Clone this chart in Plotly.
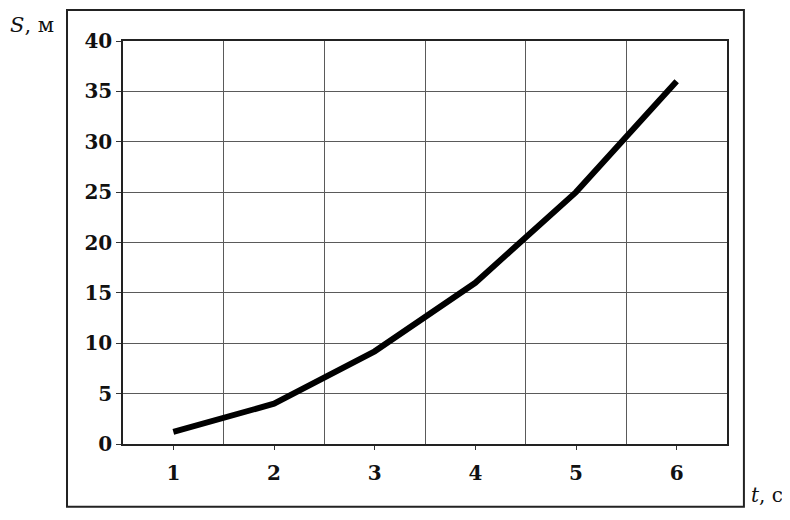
import plotly.graph_objects as go

# data
t_vals = [1, 2, 3, 4, 5, 6]
s_vals = [1.2, 4, 9.2, 16, 25, 36]
x_ticks = [1, 2, 3, 4, 5, 6]
x_grid = [1.5, 2.5, 3.5, 4.5, 5.5]
y_ticks = [0, 5, 10, 15, 20, 25, 30, 35, 40]

FONT = "DejaVu Serif"

fig = go.Figure()
fig.add_trace(go.Scatter(x=t_vals, y=s_vals, mode="lines",
                         line=dict(color="#000000", width=6),
                         showlegend=False, hoverinfo="skip"))

# page body has an 8px margin, so the figure is a bit smaller than the window
fig.update_layout(
    width=782, height=512,
    margin=dict(l=115, r=63, t=33, b=76),
    paper_bgcolor="white", plot_bgcolor="white",
    font=dict(family=FONT, color="#111111", size=20),
    xaxis=dict(
        range=[0.5, 6.5], tickvals=x_ticks, showgrid=False,
        ticks="outside", ticklen=4, tickcolor="#333333",
        ticklabelstandoff=6,
        tickfont=dict(family=FONT, size=20, weight="bold"),
        showline=True, linecolor="#222222", linewidth=1.5, mirror=True,
        zeroline=False,
        minor=dict(tickvals=x_grid, showgrid=True, gridcolor="#5a5a5a",
                   gridwidth=1.2, ticks=""),
    ),
    yaxis=dict(
        range=[0, 40], tickvals=y_ticks, showgrid=True,
        gridcolor="#5a5a5a", gridwidth=1.2,
        ticks="outside", ticklen=5, tickcolor="#333333",
        tickfont=dict(family=FONT, size=20, weight="bold"),
        showline=True, linecolor="#222222", linewidth=1.5, mirror=True,
        zeroline=False,
    ),
    shapes=[dict(type="rect", xref="paper", yref="paper",
                 x0=-0.0927, x1=1.028, y0=-0.156, y1=1.077,
                 line=dict(color="#222222", width=2), layer="below")],
    annotations=[
        dict(text="<i>S</i>, м", xref="paper", yref="paper",
             x=-0.19, y=1.04, xanchor="left", yanchor="middle",
             showarrow=False, font=dict(family=FONT, size=21)),
        dict(text="<i>t</i>, с", xref="paper", yref="paper",
             x=1.036, y=-0.127, xanchor="left", yanchor="middle",
             showarrow=False, font=dict(family=FONT, size=20)),
    ],
)

fig.write_html("out.html")
